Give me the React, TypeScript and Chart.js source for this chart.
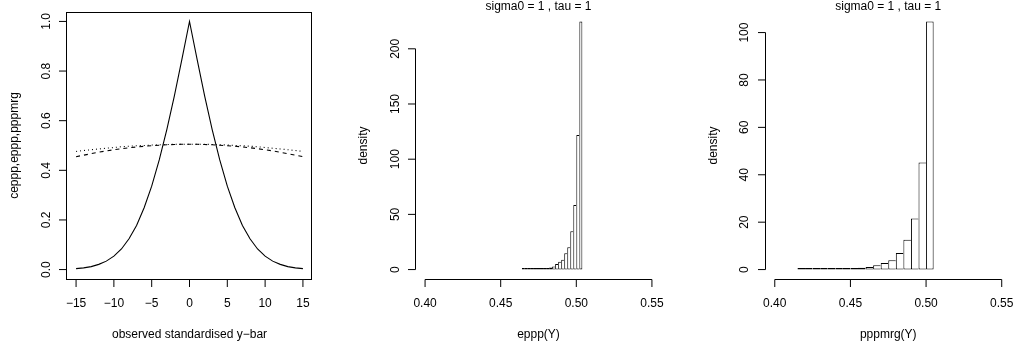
import React, { useEffect, useRef } from "react";
import { Chart, registerables } from "chart.js";

Chart.register(...registerables);

const FONT = '"Liberation Sans", Arial, Helvetica, sans-serif';

// ---------- Panel 1: p-values vs observed standardised y-bar ----------
const obsYbar = [-15, -14, -13, -12, -11, -10, -9, -8, -7, -6, -5, -4, -3, -2, -1, 0, 1, 2, 3, 4, 5, 6, 7, 8, 9, 10, 11, 12, 13, 14, 15];
const ceppp = [0.004, 0.007, 0.012, 0.021, 0.034, 0.054, 0.083, 0.124, 0.178, 0.249, 0.336, 0.442, 0.564, 0.700, 0.848, 1.000, 0.848, 0.700, 0.564, 0.442, 0.336, 0.249, 0.178, 0.124, 0.083, 0.054, 0.034, 0.021, 0.012, 0.007, 0.004];
const eppp = [0.455, 0.461, 0.467, 0.473, 0.478, 0.483, 0.487, 0.491, 0.494, 0.497, 0.499, 0.501, 0.503, 0.504, 0.505, 0.505, 0.505, 0.504, 0.503, 0.501, 0.499, 0.497, 0.494, 0.491, 0.487, 0.483, 0.478, 0.473, 0.467, 0.461, 0.455];
const pppmrg = [0.476, 0.480, 0.483, 0.486, 0.489, 0.492, 0.495, 0.497, 0.499, 0.500, 0.502, 0.503, 0.504, 0.505, 0.505, 0.505, 0.505, 0.505, 0.504, 0.503, 0.502, 0.500, 0.499, 0.497, 0.495, 0.492, 0.489, 0.486, 0.483, 0.480, 0.476];
const p1XTicks = [-15, -10, -5, 0, 5, 10, 15];
const p1XTickLabels = ["\u221215", "\u221210", "\u22125", "0", "5", "10", "15"];
const p1YTicks = [0, 0.2, 0.4, 0.6, 0.8, 1.0];
const p1YTickLabels = ["0.0", "0.2", "0.4", "0.6", "0.8", "1.0"];

// ---------- Panel 2: histogram of eppp(Y) ----------
const epppBreaks = [0.464, 0.466, 0.468, 0.470, 0.472, 0.474, 0.476, 0.478, 0.480, 0.482, 0.484, 0.486, 0.488, 0.490, 0.492, 0.494, 0.496, 0.498, 0.500, 0.502, 0.504];
const epppDensity = [0.1, 0.1, 0.2, 0.2, 0.3, 0.4, 0.6, 0.8, 1.2, 1.8, 2.7, 5.1, 7.0, 8.8, 14.8, 20.2, 34.7, 58.6, 122, 224.8];

// ---------- Panel 3: histogram of pppmrg(Y) ----------
const pppmrgBreaks = [0.415, 0.420, 0.425, 0.430, 0.435, 0.440, 0.445, 0.450, 0.455, 0.460, 0.465, 0.470, 0.475, 0.480, 0.485, 0.490, 0.495, 0.500, 0.505];
const pppmrgDensity = [0.1, 0.1, 0.1, 0.2, 0.2, 0.3, 0.3, 0.5, 0.8, 1.1, 1.8, 2.8, 3.9, 7.0, 12.6, 21.5, 45.2, 104.7];

const histXTicks = [0.40, 0.45, 0.50, 0.55];
const histXTickLabels = ["0.40", "0.45", "0.50", "0.55"];
const epppYTicks = [0, 50, 100, 150, 200];
const epppYTickLabels = ["0", "50", "100", "150", "200"];
const pppmrgYTicks = [0, 20, 40, 60, 80, 100];
const pppmrgYTickLabels = ["0", "20", "40", "60", "80", "100"];

const mainTitle = "sigma0 = 1 , tau = 1";

type AxisSpec = {
  box: boolean;
  xTicks: number[];
  xLabels: string[];
  yTicks: number[];
  yLabels: string[];
  xTitle: string;
  yTitle: string;
  main?: string;
};

function rAxesPlugin(spec: AxisSpec) {
  return {
    id: "rAxes",
    afterDraw(chart: any) {
      const { ctx, chartArea: ca, scales } = chart;
      const xs = scales.x;
      const ys = scales.y;
      const px = (v: number) => xs.getPixelForValue(v);
      const py = (v: number) => ys.getPixelForValue(v);
      const TCK = 7.5;
      ctx.save();
      ctx.strokeStyle = "#000";
      ctx.fillStyle = "#000";
      ctx.lineWidth = 1;

      const L = Math.round(ca.left) - 0.5;
      const B = Math.round(ca.bottom) - 0.5;
      if (spec.box) {
        const R = Math.round(ca.right) - 0.5;
        const T = Math.round(ca.top) + 0.5;
        ctx.strokeRect(L, T, R - L, B - T);
      } else {
        ctx.beginPath();
        ctx.moveTo(L, py(spec.yTicks[0]));
        ctx.lineTo(L, py(spec.yTicks[spec.yTicks.length - 1]));
        ctx.moveTo(px(spec.xTicks[0]), B);
        ctx.lineTo(px(spec.xTicks[spec.xTicks.length - 1]), B);
        ctx.stroke();
      }
      ctx.beginPath();
      spec.yTicks.forEach((t) => {
        const y = py(t);
        ctx.moveTo(L, y);
        ctx.lineTo(L - TCK, y);
      });
      spec.xTicks.forEach((t) => {
        const x = px(t);
        ctx.moveTo(x, B);
        ctx.lineTo(x, B + TCK);
      });
      ctx.stroke();

      ctx.font = "12px " + FONT;
      ctx.textBaseline = "alphabetic";
      ctx.textAlign = "center";
      spec.xTicks.forEach((t, i) => {
        ctx.fillText(spec.xLabels[i], px(t), ca.bottom + 27.3);
      });
      spec.yTicks.forEach((t, i) => {
        ctx.save();
        ctx.translate(ca.left - 17.5, py(t));
        ctx.rotate(-Math.PI / 2);
        ctx.fillText(spec.yLabels[i], 0, 0);
        ctx.restore();
      });
      const cx = (ca.left + ca.right) / 2;
      const cy = (ca.top + ca.bottom) / 2;
      ctx.fillText(spec.xTitle, cx, ca.bottom + 58);
      ctx.save();
      ctx.translate(ca.left - 49, cy);
      ctx.rotate(-Math.PI / 2);
      ctx.fillText(spec.yTitle, 0, 0);
      ctx.restore();
      if (spec.main) {
        ctx.font = "12px " + FONT;
        ctx.fillText(spec.main, cx, 10);
      }
      ctx.restore();
    },
  };
}

function histDataset(breaks: number[], density: number[]) {
  const n = density.length;
  return {
    data: density.map((d, i) => ({ x: (breaks[i] + breaks[i + 1]) / 2, y: d })),
    backgroundColor: "#ffffff",
    borderColor: "#000000",
    borderSkipped: false,
    inflateAmount: 0,
    barPercentage: 1,
    categoryPercentage: 1,
    minBarLength: 1.5,
    borderWidth: (c: any) => {
      const i = c.dataIndex;
      return {
        top: 1,
        bottom: 1,
        left: i === 0 || density[i - 1] <= density[i] ? 1 : 0,
        right: i === n - 1 || density[i + 1] < density[i] ? 1 : 0,
      };
    },
  };
}

const baseOptions = (padding: any, xmin: number, xmax: number, ymin: number, ymax: number) => ({
  responsive: false,
  animation: false as const,
  devicePixelRatio: 1,
  events: [] as any[],
  layout: { padding },
  plugins: { legend: { display: false }, tooltip: { enabled: false }, title: { display: false } },
  scales: {
    x: { type: "linear" as const, min: xmin, max: xmax, display: false, offset: false },
    y: { type: "linear" as const, min: ymin, max: ymax, display: false },
  },
});

export default function App() {
  const c1 = useRef<HTMLCanvasElement>(null);
  const c2 = useRef<HTMLCanvasElement>(null);
  const c3 = useRef<HTMLCanvasElement>(null);

  useEffect(() => {
    const charts: Chart[] = [];
    const TOP = 11.5;
    const BOTTOM = 351 - 279.5;

    // Panel 1
    const lineDs = (vals: number[], dash: number[]) => ({
      data: obsYbar.map((x, i) => ({ x, y: vals[i] })),
      borderColor: "#000",
      borderWidth: 1.1,
      borderDash: dash,
      pointRadius: 0,
      tension: 0,
      fill: false,
    });
    charts.push(
      new Chart(c1.current!, {
        type: "line",
        data: { datasets: [lineDs(ceppp, []), lineDs(eppp, [4, 4]), lineDs(pppmrg, [1, 3])] },
        options: baseOptions({ left: 67, right: 27, top: TOP, bottom: BOTTOM }, -16.2, 16.2, -0.04, 1.04) as any,
        plugins: [
          rAxesPlugin({
            box: true,
            xTicks: p1XTicks,
            xLabels: p1XTickLabels,
            yTicks: p1YTicks,
            yLabels: p1YTickLabels,
            xTitle: "observed standardised y\u2212bar",
            yTitle: "ceppp,eppp,pppmrg",
          }),
        ],
      })
    );

    // Panel 2
    const e2max = Math.max(...epppDensity);
    charts.push(
      new Chart(c2.current!, {
        type: "bar",
        data: { datasets: [histDataset(epppBreaks, epppDensity) as any] },
        options: baseOptions({ left: 77, right: 17, top: TOP, bottom: BOTTOM }, 0.394, 0.556, -0.04 * e2max, 1.04 * e2max) as any,
        plugins: [
          rAxesPlugin({
            box: false,
            xTicks: histXTicks,
            xLabels: histXTickLabels,
            yTicks: epppYTicks,
            yLabels: epppYTickLabels,
            xTitle: "eppp(Y)",
            yTitle: "density",
            main: mainTitle,
          }),
        ],
      })
    );

    // Panel 3
    const p3max = Math.max(...pppmrgDensity);
    charts.push(
      new Chart(c3.current!, {
        type: "bar",
        data: { datasets: [histDataset(pppmrgBreaks, pppmrgDensity) as any] },
        options: baseOptions({ left: 87.7, right: 5.2, top: TOP, bottom: BOTTOM }, 0.394, 0.556, -0.04 * p3max, 1.04 * p3max) as any,
        plugins: [
          rAxesPlugin({
            box: false,
            xTicks: histXTicks,
            xLabels: histXTickLabels,
            yTicks: pppmrgYTicks,
            yLabels: pppmrgYTickLabels,
            xTitle: "pppmrg(Y)",
            yTitle: "density",
            main: mainTitle,
          }),
        ],
      })
    );

    return () => charts.forEach((c) => c.destroy());
  }, []);

  const cs = (left: number): React.CSSProperties => ({ position: "absolute", left, top: 0, display: "block" });
  return (
    <div style={{ position: "absolute", left: 0, top: 0, width: 1016, height: 351, background: "#fff", overflow: "hidden" }}>
      <canvas ref={c1} width={339} height={351} style={cs(0)} />
      <canvas ref={c2} width={339} height={351} style={cs(339)} />
      <canvas ref={c3} width={338} height={351} style={cs(678)} />
    </div>
  );
}
